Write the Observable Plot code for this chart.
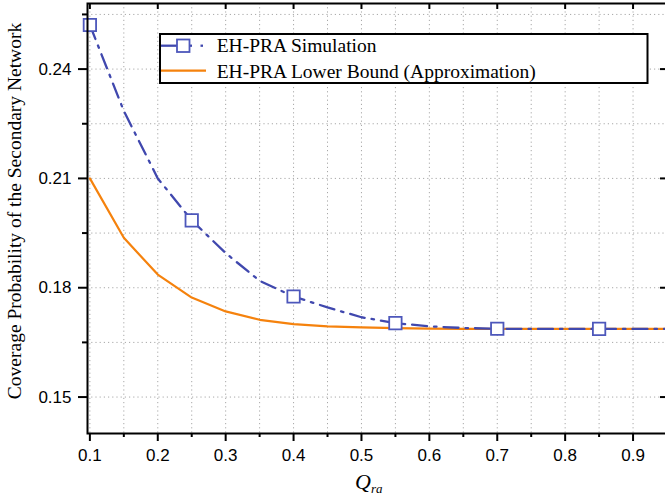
<!DOCTYPE html>
<html>
<head>
<meta charset="utf-8">
<script src="https://cdn.jsdelivr.net/npm/d3@7"></script>
<script src="https://cdn.jsdelivr.net/npm/@observablehq/plot@0.6"></script>
<style>
  html, body { margin: 0; padding: 0; background: white; }
  #chart { width: 665px; height: 499px; }
</style>
</head>
<body>
<div id="chart"></div>
<script>
// ---- data ----
const xValues = [0.10, 0.15, 0.20, 0.25, 0.30, 0.35, 0.40, 0.45, 0.50, 0.55, 0.60, 0.65, 0.70, 0.75, 0.80, 0.85, 0.90, 0.95];
const simulationValues = [0.2521, 0.2285, 0.2100, 0.1985, 0.1895, 0.1819, 0.1776, 0.1746, 0.1719, 0.1703, 0.1694, 0.16895, 0.16875, 0.1687, 0.1687, 0.1687, 0.1687, 0.1687];
const lowerBoundValues = [0.2100, 0.1937, 0.1836, 0.1773, 0.1735, 0.1712, 0.1700, 0.1694, 0.1691, 0.1689, 0.1688, 0.1687, 0.1687, 0.1687, 0.1687, 0.1687, 0.1687, 0.1687];
const markerX = [0.10, 0.25, 0.40, 0.55, 0.70, 0.85];
const markerSimulation = [0.2521, 0.1985, 0.1776, 0.1703, 0.16875, 0.1687];
const xTickLabels = [0.1, 0.2, 0.3, 0.4, 0.5, 0.6, 0.7, 0.8, 0.9];
const xMinorTicks = [0.15, 0.25, 0.35, 0.45, 0.55, 0.65, 0.75, 0.85];
const yTickLabels = [0.15, 0.18, 0.21, 0.24];
const yMinorTicks = [0.165, 0.195, 0.225, 0.255];
const xGrid = [0.1, 0.15, 0.2, 0.25, 0.3, 0.35, 0.4, 0.45, 0.5, 0.55, 0.6, 0.65, 0.7, 0.75, 0.8, 0.85, 0.9];
const yGrid = [0.15, 0.165, 0.18, 0.195, 0.21, 0.225, 0.24, 0.255];
const seriesNames = ["EH-PRA Simulation", "EH-PRA Lower Bound (Approximation)"];
const yTitle = "Coverage Probability of the Secondary Network";

const BLUE = "#4048ae";
const BLUE_MARK = "#4d57bb";
const ORANGE = "#f5820d";

const simTable = xValues.map((x, i) => ({x, y: simulationValues[i]}));
const boundTable = xValues.map((x, i) => ({x, y: lowerBoundValues[i]}));
const markerTable = markerX.map((x, i) => ({x, y: markerSimulation[i]}));

const gridStyle = {stroke: "#a8a8a8", strokeOpacity: 1, strokeWidth: 1, strokeDasharray: "1.2,3"};

const svg = Plot.plot({
  width: 665,
  height: 499,
  marginLeft: 87,
  marginRight: -1.5,
  marginTop: 3,
  marginBottom: 66,
  x: {domain: [0.0965, 0.95], axis: null, label: null},
  y: {domain: [0.14, 0.258], axis: null, label: null},
  style: {fontFamily: "'Liberation Sans', Arial, sans-serif", background: "white", color: "black"},
  marks: [
    Plot.gridX(xGrid, gridStyle),
    Plot.gridY(yGrid, gridStyle),
    Plot.line(boundTable, {x: "x", y: "y", stroke: ORANGE, strokeWidth: 2.2}),
    Plot.line(simTable, {x: "x", y: "y", stroke: BLUE, strokeWidth: 2.3, strokeDasharray: "15,7,2.5,7"}),
    Plot.dot(markerTable, {x: "x", y: "y", symbol: "square", r: 7, stroke: BLUE_MARK, strokeWidth: 1.8, fill: "white"}),
    Plot.axisX(xTickLabels, {anchor: "bottom", tickSize: 8, tickPadding: 7, fontSize: 17, tickFormat: d => d.toFixed(1), strokeWidth: 2, label: null}),
    Plot.axisX(xMinorTicks, {anchor: "bottom", tickSize: 4, tickFormat: () => "", strokeWidth: 2, label: null}),
    Plot.axisY(yTickLabels, {anchor: "left", tickSize: 9, tickPadding: 7, fontSize: 17, tickFormat: d => d.toFixed(2), strokeWidth: 2, label: null}),
    Plot.axisY(yMinorTicks, {anchor: "left", tickSize: 5, tickFormat: () => "", strokeWidth: 2, label: null}),
    Plot.ruleX(xTickLabels, {x: d => d, insetBottom: 424, stroke: "black", strokeWidth: 2}),
    Plot.ruleY(yTickLabels, {y: d => d, insetLeft: 573, stroke: "black", strokeWidth: 2}),
    Plot.frame({stroke: "black", strokeWidth: 2})
  ]
});

const s = d3.select(svg);
const SERIF = "'Liberation Serif', 'Times New Roman', serif";

// y-axis title
s.append("text")
  .attr("transform", "translate(21,211) rotate(-90)")
  .attr("text-anchor", "middle")
  .attr("font-family", SERIF)
  .attr("font-size", "19.5px")
  .attr("fill", "black")
  .text(yTitle);

// x-axis title Q_ra
const xt = s.append("text")
  .attr("x", 355).attr("y", 489)
  .attr("text-anchor", "start")
  .attr("font-family", SERIF)
  .attr("font-style", "italic")
  .attr("fill", "black");
xt.append("tspan").attr("font-size", "22px").text("Q");
xt.append("tspan").attr("font-size", "13px").attr("dy", 4).text("ra");

// legend
const lg = s.append("g").attr("text-anchor", "start");
lg.append("rect").attr("x", 160).attr("y", 34).attr("width", 487.5).attr("height", 49)
  .attr("fill", "white").attr("stroke", "black").attr("stroke-width", 2);
lg.append("line").attr("x1", 161).attr("x2", 177).attr("y1", 45.7).attr("y2", 45.7)
  .attr("stroke", BLUE).attr("stroke-width", 2.3);
lg.append("line").attr("x1", 189).attr("x2", 192).attr("y1", 45.7).attr("y2", 45.7)
  .attr("stroke", BLUE).attr("stroke-width", 2.3);
lg.append("line").attr("x1", 200.5).attr("x2", 203).attr("y1", 45.7).attr("y2", 45.7)
  .attr("stroke", BLUE).attr("stroke-width", 2.3);
lg.append("rect").attr("x", 177).attr("y", 39.5).attr("width", 12.5).attr("height", 12.5)
  .attr("fill", "white").attr("stroke", BLUE_MARK).attr("stroke-width", 1.8);
lg.append("line").attr("x1", 161).attr("x2", 206).attr("y1", 70.7).attr("y2", 70.7)
  .attr("stroke", ORANGE).attr("stroke-width", 2.2);
lg.selectAll("text.lab").data(seriesNames).join("text")
  .attr("class", "lab")
  .attr("x", 216.7)
  .attr("y", (d, i) => i === 0 ? 51.7 : 78.3)
  .attr("text-anchor", "start")
  .attr("font-family", SERIF)
  .attr("font-size", "19.5px")
  .attr("fill", "black")
  .text(d => d);

document.getElementById("chart").appendChild(svg);
</script>
</body>
</html>
